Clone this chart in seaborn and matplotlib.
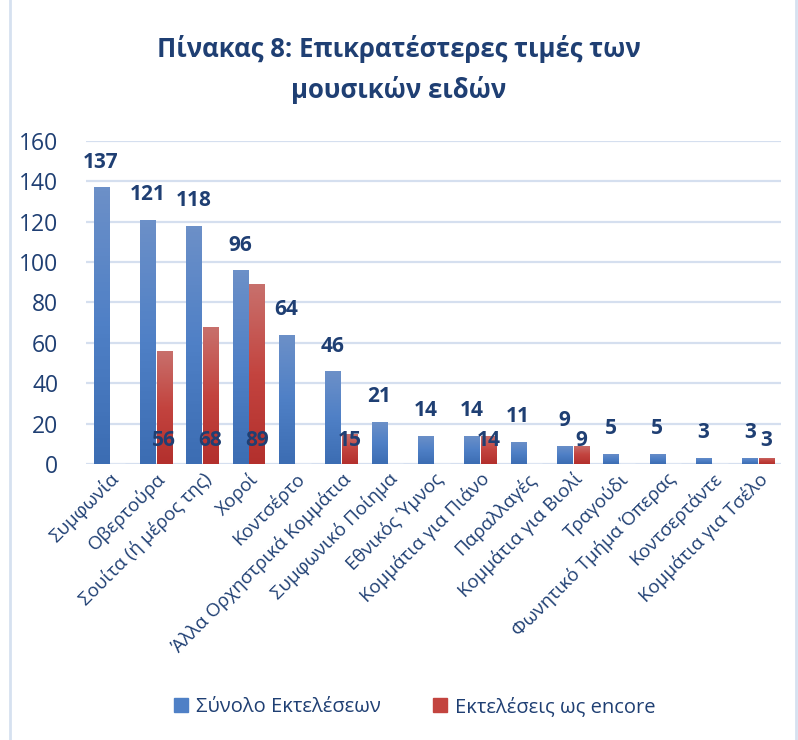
import matplotlib
matplotlib.use("Agg")
import matplotlib.pyplot as plt
import numpy as np
import pandas as pd
import seaborn as sns
from matplotlib.colors import LinearSegmentedColormap
from matplotlib.patches import Rectangle

categories = [
    "Συμφωνία", "Οβερτούρα", "Σουίτα (ή μέρος της)", "Χοροί", "Κοντσέρτο",
    "Άλλα Ορχηστρικά Κομμάτια", "Συμφωνικό Ποίημα", "Εθνικός Ύμνος",
    "Κομμάτια για Πιάνο", "Παραλλαγές", "Κομμάτια για Βιολί", "Τραγούδι",
    "Φωνητικό Τμήμα Όπερας", "Κοντσερτάντε", "Κομμάτια για Τσέλο",
]
total_runs = [137, 121, 118, 96, 64, 46, 21, 14, 14, 11, 9, 5, 5, 3, 3]
encore_runs = [0, 56, 68, 89, 0, 15, 0, 0, 14, 0, 9, 0, 0, 0, 3]
series_names = ["Σύνολο Εκτελέσεων", "Εκτελέσεις ως encore"]

TEXT = "#1F3F73"
BLUE = "#4A78BC"
RED = "#C0423F"

sns.set_theme(style="white")
plt.rcParams["font.family"] = ["Open Sans", "DejaVu Sans"]

df = pd.DataFrame({
    "cat": categories * 2,
    "value": total_runs + encore_runs,
    "series": [series_names[0]] * len(categories) + [series_names[1]] * len(categories),
})

fig = plt.figure(figsize=(7.98, 7.4), dpi=100)
ax = fig.add_axes([0.108, 0.373, 0.871, 0.4365])

sns.barplot(data=df, x="cat", y="value", hue="series", order=categories,
            palette=[BLUE, RED], width=0.72, gap=0.1, ax=ax, legend=False,
            saturation=1)

# excel-like vertical gradient on each bar
grads = [
    LinearSegmentedColormap.from_list("b", ["#3C6DB3", "#4F80C6", "#6C90C8"]),
    LinearSegmentedColormap.from_list("r", ["#B3302D", "#C3443F", "#C8706C"]),
]
grad_img = np.linspace(0, 1, 64).reshape(-1, 1)
for cont, cmap in zip(ax.containers, grads):
    for bar in cont:
        h = bar.get_height()
        if h <= 0:
            continue
        x0 = bar.get_x()
        w = bar.get_width()
        bar.set_alpha(0)
        im = ax.imshow(grad_img, extent=[x0, x0 + w, 0, h], origin="lower",
                       cmap=cmap, aspect="auto", zorder=3)
        im.set_clip_path(Rectangle((x0, 0), w, h, transform=ax.transData))

ax.set_xlim(-0.5, len(categories) - 0.5)
ax.set_ylim(0, 160)
ax.set_yticks(range(0, 161, 20))
ax.grid(axis="y", color="#D5DFEF", linewidth=1.6, zorder=0)
ax.set_axisbelow(True)
for s in ax.spines.values():
    s.set_visible(False)
ax.set_xlabel("")
ax.set_ylabel("")
ax.tick_params(axis="y", labelsize=16.5, colors=TEXT, pad=20, length=0)
ax.tick_params(axis="x", length=0, pad=4)
ax.set_xticks(range(len(categories)))
ax.set_xticklabels(categories, rotation=45, ha="right", rotation_mode="anchor",
                   fontsize=13.5, color=TEXT)

# data labels
for bar, v in zip(ax.containers[0], total_runs):
    ax.annotate(str(v), (bar.get_x() + bar.get_width() / 2, v),
                xytext=(0, 18), textcoords="offset points", ha="center",
                va="center", fontsize=15, fontweight="bold", color=TEXT)
for bar, v in zip(ax.containers[1], encore_runs):
    if v == 0:
        continue
    ax.text(bar.get_x() + bar.get_width() / 2, 11.5, str(v), ha="center",
            va="center", fontsize=15, fontweight="bold", color=TEXT, zorder=5)

fig.text(0.5, 0.934, "Πίνακας 8: Επικρατέστερες τιμές των", ha="center",
         va="center", fontsize=18.5, fontweight="bold", color=TEXT)
fig.text(0.5, 0.878, "μουσικών ειδών", ha="center", va="center",
         fontsize=18.5, fontweight="bold", color=TEXT)

handles = [Rectangle((0, 0), 1, 1, color=c) for c in ("#4F80C6", "#C3443F")]
fig.legend(handles, series_names, loc="center", bbox_to_anchor=(0.52, 0.044),
           ncol=2, frameon=False, fontsize=14.5, handlelength=0.7,
           handleheight=0.7, handletextpad=0.4, columnspacing=2.6,
           labelcolor=TEXT)

# outer chart border
fig.patches.append(Rectangle((0.013, -0.01), 0.985, 1.02, transform=fig.transFigure,
                             fill=False, edgecolor="#D6E1F0", linewidth=2))

fig.savefig("out.png", dpi=100)
